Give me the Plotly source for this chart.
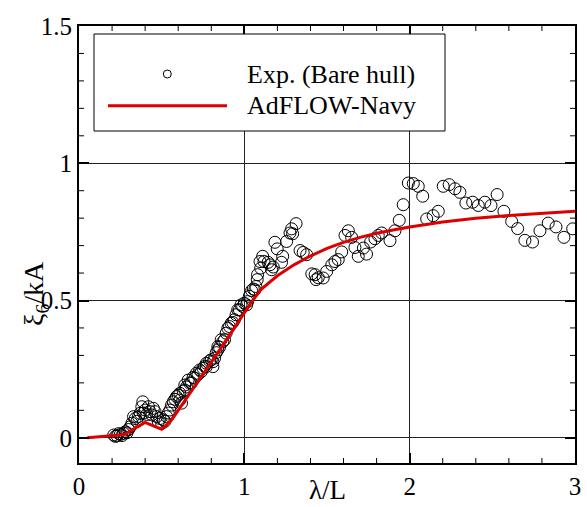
import plotly.graph_objects as go

# Experimental data (Bare hull)
exp_x = [0.21, 0.22, 0.23, 0.24, 0.25, 0.26, 0.27, 0.28, 0.29, 0.30, 0.31, 0.32, 0.33, 0.34, 0.35,
         0.36, 0.37, 0.38, 0.386, 0.39, 0.40, 0.41, 0.42, 0.43, 0.44, 0.45, 0.46, 0.47, 0.48, 0.49,
         0.50, 0.51, 0.52, 0.53, 0.54, 0.55, 0.56, 0.57, 0.58, 0.59, 0.60, 0.61, 0.61, 0.62, 0.63,
         0.64, 0.64, 0.65, 0.66, 0.67, 0.68, 0.69, 0.70, 0.71, 0.72, 0.73, 0.74, 0.75, 0.76, 0.77,
         0.77, 0.79, 0.80, 0.81, 0.81, 0.82, 0.83, 0.84, 0.84, 0.85, 0.86, 0.87, 0.88, 0.89, 0.90,
         0.91, 0.92, 0.93, 0.94, 0.95, 0.96, 0.97, 0.98, 0.99, 1.00, 1.014, 1.02, 1.03, 1.044, 1.054,
         1.064, 1.07, 1.078, 1.08, 1.099, 1.095, 1.111, 1.119, 1.144, 1.155, 1.165, 1.175, 1.185, 1.199,
         1.232, 1.225, 1.256, 1.276, 1.292, 1.286, 1.313, 1.337, 1.356, 1.377, 1.408, 1.428, 1.447,
         1.434, 1.477, 1.498, 1.529, 1.548, 1.568, 1.589, 1.609, 1.629, 1.649, 1.669, 1.689, 1.720,
         1.739, 1.764, 1.790, 1.810, 1.831, 1.881, 1.911, 1.937, 1.961, 1.992, 2.022, 2.052, 2.079,
         2.103, 2.142, 2.173, 2.203, 2.239, 2.274, 2.304, 2.340, 2.381, 2.415, 2.455, 2.492, 2.529,
         2.570, 2.617, 2.653, 2.697, 2.743, 2.788, 2.838, 2.885, 2.933, 2.986]
exp_y = [0.010, 0.005, 0.007, 0.015, 0.012, 0.008, 0.016, 0.022, 0.018, 0.030, 0.040, 0.053, 0.077, 0.070, 0.060,
         0.077, 0.089, 0.113, 0.131, 0.090, 0.101, 0.085, 0.113, 0.095, 0.083, 0.107, 0.095, 0.077, 0.058, 0.070,
         0.052, 0.065, 0.060, 0.077, 0.090, 0.101, 0.119, 0.131, 0.140, 0.150, 0.155, 0.162, 0.137, 0.126, 0.170,
         0.192, 0.174, 0.185, 0.210, 0.199, 0.200, 0.220, 0.217, 0.235, 0.230, 0.247, 0.241, 0.253, 0.260, 0.271,
         0.259, 0.280, 0.284, 0.277, 0.259, 0.290, 0.310, 0.332, 0.320, 0.330, 0.357, 0.350, 0.357, 0.381, 0.399,
         0.405, 0.417, 0.420, 0.430, 0.448, 0.466, 0.466, 0.484, 0.478, 0.490, 0.484, 0.496, 0.515, 0.536, 0.542,
         0.539, 0.551, 0.576, 0.594, 0.618, 0.642, 0.661, 0.642, 0.639, 0.630, 0.612, 0.622, 0.712, 0.688,
         0.661, 0.639, 0.715, 0.746, 0.743, 0.761, 0.780, 0.682, 0.675, 0.667, 0.597, 0.594, 0.583,
         0.576, 0.582, 0.606, 0.630, 0.642, 0.649, 0.677, 0.737, 0.754, 0.730, 0.693, 0.661, 0.691,
         0.669, 0.713, 0.725, 0.737, 0.746, 0.718, 0.754, 0.792, 0.849, 0.928, 0.926, 0.916, 0.880,
         0.797, 0.809, 0.825, 0.916, 0.922, 0.907, 0.894, 0.855, 0.858, 0.846, 0.858, 0.846, 0.886,
         0.825, 0.788, 0.762, 0.719, 0.713, 0.754, 0.782, 0.768, 0.730, 0.761]

# AdFLOW-Navy computation
cfd_x = [0.05, 0.10, 0.15, 0.20, 0.25, 0.28, 0.33, 0.40, 0.45, 0.50, 0.56, 0.60, 0.70, 0.80, 0.90,
         1.00, 1.05, 1.10, 1.20, 1.30, 1.40, 1.50, 1.60, 1.70, 1.80, 1.90, 2.00, 2.20, 2.40, 2.60,
         2.80, 3.00]
cfd_y = [0.000, 0.002, 0.004, 0.007, 0.010, 0.014, 0.031, 0.056, 0.043, 0.031, 0.065, 0.100, 0.185, 0.275, 0.365,
         0.455, 0.500, 0.540, 0.590, 0.630, 0.662, 0.690, 0.712, 0.730, 0.745, 0.757, 0.768, 0.786, 0.800, 0.810,
         0.818, 0.825]

x_ticks = [0, 1, 2, 3]
x_minor = [0.2, 0.4, 0.6, 0.8, 1.2, 1.4, 1.6, 1.8, 2.2, 2.4, 2.6, 2.8]
y_ticks = [0, 0.5, 1, 1.5]
y_minor = [-0.1, 0.1, 0.2, 0.3, 0.4, 0.6, 0.7, 0.8, 0.9, 1.1, 1.2, 1.3, 1.4]

FONT = "Liberation Serif"
RED = "#dd0000"

fig = go.Figure()
fig.add_trace(go.Scatter(
    x=exp_x, y=exp_y, mode="markers", name="Exp. (Bare hull)",
    marker=dict(symbol="circle-open", size=12, color="black", line=dict(width=1, color="black")),
    showlegend=False,
))
fig.add_trace(go.Scatter(
    x=cfd_x, y=cfd_y, mode="lines", name="AdFLOW-Navy",
    line=dict(color=RED, width=3), showlegend=False,
))

W, H = 587, 507
L, R, T, B = 79, 12, 26, 44
pw, ph = W - L - R, H - T - B

axis_common = dict(
    zeroline=False, showline=True, linecolor="black", linewidth=2, mirror="ticks",
    ticks="inside", ticklen=10, tickwidth=2, tickcolor="black", automargin=False,
    showgrid=True, gridcolor="#222222", gridwidth=1,
    tickfont=dict(family=FONT, size=25, color="black"),
)
fig.update_xaxes(range=[0, 3], tickmode="array", tickvals=x_ticks, **axis_common)
fig.update_yaxes(range=[-0.092, 1.5], tickmode="array", tickvals=y_ticks, **axis_common)


def px(x):
    return (x - L) / pw


def py(y):
    return (H - B - y) / ph


shapes = []
tick_px = 5
for v in x_minor:
    shapes.append(dict(type="line", xref="x", yref="paper", x0=v, x1=v, y0=0, y1=tick_px / ph,
                       line=dict(color="black", width=1)))
    shapes.append(dict(type="line", xref="x", yref="paper", x0=v, x1=v, y0=1 - tick_px / ph, y1=1,
                       line=dict(color="black", width=1)))
for v in y_minor:
    shapes.append(dict(type="line", xref="paper", yref="y", x0=0, x1=tick_px / pw, y0=v, y1=v,
                       line=dict(color="black", width=1)))
    shapes.append(dict(type="line", xref="paper", yref="y", x0=1 - tick_px / pw, x1=1, y0=v, y1=v,
                       line=dict(color="black", width=1)))

shapes += [
    dict(type="rect", xref="paper", yref="paper", x0=px(94), x1=px(445), y0=py(131), y1=py(34),
         line=dict(color="black", width=1), fillcolor="white", layer="above"),
    dict(type="line", xref="paper", yref="paper", x0=px(108), x1=px(227), y0=py(105.7), y1=py(105.7),
         line=dict(color=RED, width=3), layer="above"),
    dict(type="circle", xref="paper", yref="paper", x0=px(163.3), x1=px(171.3), y0=py(78), y1=py(70),
         line=dict(color="black", width=1), layer="above"),
]

annotations = [
    dict(text="Exp. (Bare hull)", xref="paper", yref="paper", x=px(245), y=py(74),
         xanchor="left", yanchor="middle", showarrow=False,
         font=dict(family=FONT, size=26, color="black")),
    dict(text="AdFLOW-Navy", xref="paper", yref="paper", x=px(245), y=py(106),
         xanchor="left", yanchor="middle", showarrow=False,
         font=dict(family=FONT, size=26, color="black")),
    dict(text="λ/L", xref="paper", yref="paper", x=0.5, y=py(490),
         xanchor="center", yanchor="middle", showarrow=False,
         font=dict(family=FONT, size=27, color="black")),
    dict(text="ξ<sub>6</sub>/kA", xref="paper", yref="paper", x=px(35), y=py(294),
         xanchor="center", yanchor="middle", showarrow=False, textangle=-90,
         font=dict(family=FONT, size=28, color="black")),
]

fig.update_layout(
    width=W, height=H,
    margin=dict(l=L, r=R, t=T, b=B, pad=0, autoexpand=False),
    paper_bgcolor="white", plot_bgcolor="white",
    font=dict(family=FONT, color="black"),
    shapes=shapes, annotations=annotations,
    showlegend=False,
)

fig.write_html("out.html")
